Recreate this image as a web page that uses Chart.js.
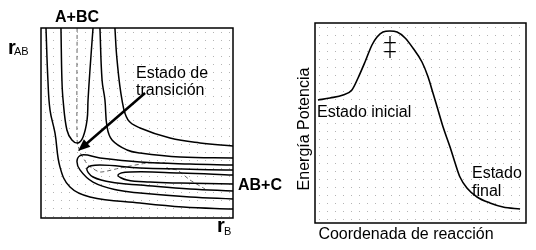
<!DOCTYPE html>
<html>
<head>
<meta charset="utf-8">
<script src="https://cdn.jsdelivr.net/npm/chart.js@4"></script>
<style>
    html, body { margin: 0; padding: 0; background: #fff; }
    #wrap { position: relative; width: 536px; height: 250px; }
    #surfaceChart { position: absolute; left: 0; top: 0; }
    #profileChart { position: absolute; left: 270px; top: 0; }
</style>
</head>
<body>
<div id="wrap">
    <canvas id="surfaceChart" width="300" height="250"></canvas>
    <canvas id="profileChart" width="266" height="250"></canvas>
</div>
<script>
// --- potential energy surface (r_B across, r_AB up), 0..100 units ---
const wallRB = [2.6, 3.6, 4.7, 7.3, 9.9, 15.1, 25.5, 51.6, 74, 100];
const wallRAB = [100, 72.6, 56.8, 44.7, 26.8, 16.3, 11.1, 7.9, 5.8, 4.7];

const reactantRB = [10.4, 10.9, 11.5, 13.5, 16.1, 19.3, 21.9, 24, 24.5, 25.5, 27.1];
const reactantRAB = [100, 72.6, 62.1, 46.3, 41.1, 39.5, 42.6, 51.6, 62.1, 77.9, 100];

const midRB = [30.7, 31.8, 33.3, 34.4, 37, 44.8, 51.6, 72.4, 100];
const midRAB = [100, 72.6, 62.1, 47.9, 41.1, 35.8, 34.2, 32.1, 31.6];

const highRB = [38.5, 39.6, 42.2, 45.3, 51.6, 67.2, 82.8, 100];
const highRAB = [100, 83.2, 62.1, 51.6, 47.4, 42.1, 39.5, 37.9];

const prod1RB = [100, 77.6, 51.6, 30.7, 21.4, 18.8, 20.3, 27.1, 39.6, 51.6, 77.6, 100];
const prod1RAB = [27.9, 28.4, 29.5, 31.6, 33.2, 30.5, 25.3, 18.9, 14.7, 13.2, 11.1, 10];

const prod2RB = [100, 51.6, 30.7, 24, 27.1, 39.6, 51.6, 77.6, 100];
const prod2RAB = [25.3, 26.3, 27.9, 26.3, 21.6, 18.4, 17.4, 15.3, 14.2];

const prod3RB = [100, 72.4, 46.4, 40.1, 44.8, 56.8, 72.4, 100];
const prod3RAB = [22.6, 23.7, 24.2, 22.6, 20, 18.9, 18.4, 17.9];

const pathRB = [18.8, 18.8, 20.3, 24.5, 30.7, 41.1, 55.2, 64.6, 66.1, 70.8, 77.6, 85.4];
const pathRAB = [100, 41.1, 34.7, 27.9, 24.2, 26.3, 28.9, 28.9, 25.8, 25.3, 20, 15.3];

// arrow pointing at the transition state
const arrowRB = [54.2, 19.3];
const arrowRAB = [65.8, 35.3];

// --- energy profile ---
const reactionCoord = [1.4, 7.1, 13.3, 17.5, 20.4, 23.7, 27, 29.4, 32.2, 35.5, 38.9, 42.7, 46.4, 50.7, 53.6, 55.9, 58.3, 60.7, 64, 66.4, 68.7, 72, 76.8, 82.9, 89.1, 97.2];
const potentialEnergy = [61.5, 62.5, 64, 66.5, 72.5, 80.5, 89, 93, 95.5, 96, 95.5, 92.5, 87.5, 80.5, 73, 65, 56.5, 48, 38, 30, 23, 17.5, 13, 10, 8, 7];

const FONT = '"Liberation Sans", Arial, sans-serif';

const zip = (xs, ys) => xs.map((x, i) => ({ x: x, y: ys[i] }));

const contour = (xs, ys) => ({
    data: zip(xs, ys),
    borderColor: '#000',
    borderWidth: 1.5,
    pointRadius: 0,
    tension: 0.4,
    fill: false
});

// dotted paper + black frame
const boxPlugin = {
    id: 'box',
    beforeDatasetsDraw(chart) {
        const { ctx, chartArea: a } = chart;
        ctx.save();
        ctx.fillStyle = '#b4b4b4';
        for (let x = a.left + 4; x < a.right; x += 8) {
            for (let y = a.top + 4; y < a.bottom; y += 8) {
                ctx.fillRect(x, y, 1, 1);
            }
        }
        ctx.restore();
    },
    afterDraw(chart) {
        const { ctx, chartArea: a } = chart;
        ctx.save();
        ctx.strokeStyle = '#000';
        ctx.lineWidth = 1.5;
        ctx.strokeRect(a.left, a.top, a.right - a.left, a.bottom - a.top);
        ctx.restore();
    }
};

const surfaceLabels = {
    id: 'surfaceLabels',
    afterDatasetsDraw(chart) {
        const ctx = chart.ctx;
        const sx = chart.scales.x, sy = chart.scales.y;

        // arrow
        const x1 = sx.getPixelForValue(arrowRB[0]), y1 = sy.getPixelForValue(arrowRAB[0]);
        const x2 = sx.getPixelForValue(arrowRB[1]), y2 = sy.getPixelForValue(arrowRAB[1]);
        const ang = Math.atan2(y2 - y1, x2 - x1);
        ctx.save();
        ctx.strokeStyle = '#000';
        ctx.fillStyle = '#000';
        ctx.lineWidth = 2.5;
        ctx.beginPath();
        ctx.moveTo(x1, y1);
        ctx.lineTo(x2 - 8 * Math.cos(ang), y2 - 8 * Math.sin(ang));
        ctx.stroke();
        ctx.beginPath();
        ctx.moveTo(x2, y2);
        ctx.lineTo(x2 - 12 * Math.cos(ang) + 5 * Math.sin(ang), y2 - 12 * Math.sin(ang) - 5 * Math.cos(ang));
        ctx.lineTo(x2 - 12 * Math.cos(ang) - 5 * Math.sin(ang), y2 - 12 * Math.sin(ang) + 5 * Math.cos(ang));
        ctx.closePath();
        ctx.fill();

        ctx.textBaseline = 'alphabetic';
        ctx.textAlign = 'left';
        ctx.font = 'bold 16px ' + FONT;
        ctx.fillText('A+BC', 55, 22);
        ctx.fillText('AB+C', 238, 190);

        ctx.font = 'bold 20px ' + FONT;
        ctx.fillText('r', 8, 54);
        ctx.fillText('r', 217, 232);
        ctx.font = '11px ' + FONT;
        ctx.fillText('AB', 14, 55);
        ctx.fillText('B', 224, 235);

        ctx.font = '16px ' + FONT;
        ctx.fillText('Estado de', 136, 78);
        ctx.fillText('transición', 136, 95);
        ctx.restore();
    }
};

const profileLabels = {
    id: 'profileLabels',
    afterDatasetsDraw(chart) {
        const ctx = chart.ctx;
        ctx.save();
        ctx.fillStyle = '#000';
        ctx.font = '16px ' + FONT;
        ctx.textBaseline = 'alphabetic';
        ctx.textAlign = 'left';
        ctx.fillText('Estado inicial', 47, 117);
        ctx.fillText('Estado', 202, 178);
        ctx.fillText('final', 202, 196);

        ctx.textAlign = 'center';
        ctx.fillText('Coordenada de reacción', 136, 239);

        // transition-state mark
        ctx.font = '200 26px "DejaVu Sans", sans-serif';
        ctx.textBaseline = 'middle';
        ctx.fillText('\u2021', 120, 49);

        ctx.font = '16px ' + FONT;
        ctx.textBaseline = 'alphabetic';
        ctx.translate(39, 129);
        ctx.rotate(-Math.PI / 2);
        ctx.fillText('Energía Potencia', 0, 0);
        ctx.restore();
    }
};

new Chart(document.getElementById('surfaceChart'), {
    type: 'line',
    data: {
        datasets: [
            contour(wallRB, wallRAB),
            contour(reactantRB, reactantRAB),
            contour(midRB, midRAB),
            contour(highRB, highRAB),
            contour(prod1RB, prod1RAB),
            contour(prod2RB, prod2RAB),
            contour(prod3RB, prod3RAB),
            {
                data: zip(pathRB, pathRAB),
                borderColor: '#666',
                borderWidth: 1,
                borderDash: [4, 3],
                pointRadius: 0,
                tension: 0.2,
                fill: false
            }
        ]
    },
    options: {
        responsive: false,
        animation: false,
        layout: { padding: { left: 41, top: 28, right: 67, bottom: 32 } },
        plugins: { legend: { display: false }, tooltip: { enabled: false } },
        scales: {
            x: { type: 'linear', min: 0, max: 100, display: false },
            y: { type: 'linear', min: 0, max: 100, display: false }
        }
    },
    plugins: [boxPlugin, surfaceLabels]
});

new Chart(document.getElementById('profileChart'), {
    type: 'line',
    data: {
        datasets: [{
            data: zip(reactionCoord, potentialEnergy),
            borderColor: '#000',
            borderWidth: 1.6,
            pointRadius: 0,
            cubicInterpolationMode: 'monotone',
            fill: false
        }]
    },
    options: {
        responsive: false,
        animation: false,
        layout: { padding: { left: 45, top: 23, right: 10, bottom: 27 } },
        plugins: { legend: { display: false }, tooltip: { enabled: false } },
        scales: {
            x: { type: 'linear', min: 0, max: 100, display: false },
            y: { type: 'linear', min: 0, max: 100, display: false }
        }
    },
    plugins: [boxPlugin, profileLabels]
});
</script>
</body>
</html>
